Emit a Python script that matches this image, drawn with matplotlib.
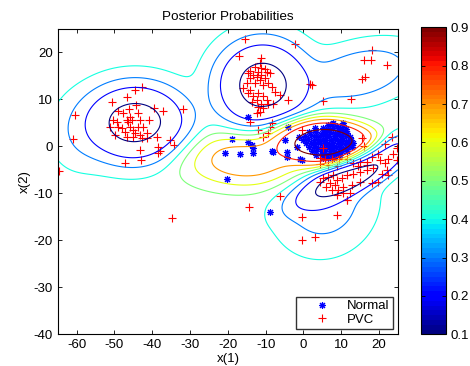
import matplotlib

matplotlib.use("Agg")

import matplotlib.pyplot as plt
import numpy as np
from matplotlib import cm
from matplotlib.colors import ListedColormap, Normalize

plt.rcParams["font.family"] = ["Liberation Sans", "DejaVu Sans"]
plt.rcParams["axes.unicode_minus"] = False

# Normal beats (blue *)
normal_x = [
    6.4, 7.6, 8.8, 10.4, 3.1, 5.2, 6.6, 7.7, 9.1, 10.1, 11.3, 1.6, 3.4, 4.9, 6.1, 7.1, 8.3, 9.3, 10.6, 11.4,
    0.4, 2.1, 3.3, 4.4, 5.7, 6.8, 8.1, 9.0, 10.3, 11.2, 12.4, -0.1, 1.2, 2.7, 3.9, 5.1, 6.1, 7.4, 8.4, 9.7,
    10.6, 11.9, 12.7, 0.7, 2.0, 3.1, 4.5, 5.5, 6.8, 7.8, 9.1, 10.0, 11.3, 12.2, 13.2, 1.4, 2.8, 3.8, 5.2, 6.2,
    7.5, 8.6, 9.6, 10.9, 11.8, 12.8, 2.3, 3.4, 4.8, 5.8, 7.1, 8.1, 9.4, 10.3, 11.5, 3.3, 4.9, 6.1, 7.2, 8.7,
    9.7, 5.1, 6.4, 8.0,
    -4.9, -4.0, -1.3, -0.9, -4.4, -8.0, -4.4, -1.8, -0.5, -8.4, -14.6, -19.0, -20.8, -16.8, -14.6, -13.7,
    -13.3, -13.3, -20.3, -8.8, 3.1, 7.9, 10.6,
]
normal_y = [
    4.5, 4.8, 4.4, 4.6, 3.8, 3.9, 3.7, 3.9, 3.8, 3.6, 3.7, 3.0, 3.1, 2.9, 3.1, 3.0, 2.9, 3.1, 3.0, 2.8,
    2.2, 2.3, 2.1, 2.2, 2.3, 2.1, 2.2, 2.3, 2.1, 2.2, 2.0, 1.4, 1.5, 1.3, 1.4, 1.5, 1.3, 1.4, 1.5, 1.3,
    1.4, 1.2, 1.4, 0.6, 0.7, 0.5, 0.6, 0.7, 0.5, 0.6, 0.7, 0.5, 0.6, 0.5, 0.6, -0.2, -0.1, -0.3, -0.2, -0.1,
    -0.3, -0.2, -0.1, -0.3, -0.2, -0.1, -1.0, -0.9, -1.1, -1.0, -0.9, -1.1, -1.0, -0.9, -1.0, -1.8, -1.7, -1.9, -1.8, -1.7,
    -1.8, -2.5, -2.4, -2.5,
    1.4, 4.2, 2.0, -2.6, -2.2, -1.2, -1.2, -0.1, -2.9, -0.9, 6.2, 1.5, -1.5, -1.6, 1.0, 0.3,
    -0.4, -1.5, -7.0, -13.9, 3.5, 4.9, 4.9,
]

# PVC beats (red +)
pvc_x = [
    -42.8, -44.7, -46.8, -50.7, -44.3, -46.2, -39.5, -37.2, -31.8, -49.2, -47.7, -45.9, -43.7, -50.3, -45.4, -46.8,
    -46.3, -43.2, -41.0, -49.4, -49.0, -51.2, -48.1, -45.9, -45.0, -43.7, -42.4, -47.2, -44.6, -43.2, -41.5, -49.9,
    -46.6, -45.0, -42.8, -41.5, -38.8, -35.3, -34.2, -38.4, -38.0, -43.2, -38.4, -47.2, -43.1, -60.4, -60.9, -64.8,
    -15.5, -2.2, -17.0, -11.2, -11.5, -12.8, -11.1, -10.2, -14.1, -11.9, -9.7, -14.6, -13.3, -11.1, -8.9, -12.4,
    -10.2, -14.1, -11.5, -15.0, -9.3, -12.8, -10.6, -15.9, -8.4, -14.1, -7.5, -14.6, -11.9, -6.2, -13.3, -10.6,
    -12.4, -9.7, -4.0, -13.7, -11.1, -9.3, -8.0, -11.9, -10.6, -11.5, -12.4, 1.7,
    18.1, 16.0, 17.9, 22.0, 15.4, 16.3, 2.2, 5.3, 12.5,
    -8.4, -8.8, -11.9, -9.3, -10.6, -14.1, -0.5,
    5.3, 15.4, 15.9, 4.4, 5.7, 7.5, 9.5, 11.4, 4.4, 6.6, 8.8, 13.2, 15.1, 16.7,
    14.5, 16.7, 18.1, 19.8, 20.3, 21.6, 22.5, 23.8, 24.7, 22.0, 22.5, 20.7, 18.5, 16.7, 15.0, 13.2,
    11.4, 10.1, 8.8, 7.9, 6.6, 5.3, 4.4, 7.0, 8.3, 6.1, 7.5, 9.2, 10.6, 12.8, 15.0, 18.1,
    19.8, 12.3, 10.6, 8.8, 11.4, 24.7, 23.4, 21.5,
    -34.9, -14.3, -6.2, -0.5, 8.8, -0.5, 3.0, 11.4,
]
pvc_y = [
    12.7, 12.0, 10.4, 9.5, 8.8, 7.9, 8.1, 7.5, 7.9, 7.6, 7.0, 6.3, 7.0, 5.6, 5.6, 5.6,
    5.2, 5.6, 5.6, 5.2, 4.2, 4.2, 3.8, 4.2, 3.5, 4.2, 4.2, 3.1, 2.8, 2.4, 2.8, 2.4,
    2.0, 2.0, 1.7, 1.7, 2.0, 1.3, 0.3, -0.1, -1.1, -0.8, -1.5, -3.6, -2.9, 6.7, 1.5, -5.2,
    22.8, 21.8, 19.2, 18.7, 17.7, 16.9, 16.6, 16.4, 16.1, 15.9, 15.9, 15.5, 15.2, 15.2, 15.5, 14.8,
    14.5, 14.5, 14.1, 13.4, 13.4, 13.4, 13.0, 12.3, 12.7, 12.0, 11.6, 11.3, 11.3, 10.9, 10.6, 10.6,
    9.9, 9.9, 9.9, 9.5, 9.1, 9.1, 9.1, 8.4, 8.1, 7.4, 7.0, 13.3,
    20.5, 18.4, 18.4, 17.4, 14.3, 14.7, 13.0, 9.6, 10.1,
    4.9, 4.2, 3.5, 2.8, 1.9, 5.2, 3.5,
    -0.3, 1.7, 0.1, -2.4, -2.6, -2.8, -2.8, -2.6, -3.8, -4.0, -4.1, -3.6, -3.3, -4.0,
    -4.2, -3.3, -2.2, -1.6, -2.9, -3.6, -2.6, -1.6, -2.9, -5.0, -6.1, -5.9, -4.7, -5.0, -5.4, -5.8,
    -6.1, -6.8, -7.2, -6.1, -6.5, -6.8, -7.5, -7.9, -8.2, -8.6, -9.3, -9.3, -8.6, -8.2, -7.7, -7.9,
    -7.5, -9.9, -9.9, -10.4, -11.4, -0.4, 2.0, 0.5,
    -15.3, -13.0, -10.6, -15.1, -14.6, -20.0, -19.2, -11.4,
]

# bumps: centre x, centre y, sd along, sd across, angle (deg), height
normal_parts = [
    (5.5, 0.6, 6.5, 2.4, -3.0, 25.0),
    (-14.0, -2.7, 10.0, 3.4, 0.0, 3.4),
]
pvc_parts = [
    (-44.5, 5.0, 7.3, 4.4, 0.0, 12.0),
    (-60.0, 2.0, 5.0, 5.0, 0.0, 0.6),
    (-10.8, 13.0, 6.5, 5.0, 0.0, 12.0),
    (13.5, -5.5, 7.6, 2.0, 22.0, 20.0),
    (5.5, -12.0, 7.5, 6.0, 10.0, 2.0),
    (15.0, 15.5, 9.0, 3.6, 10.0, 2.4),
]
pvc_spread = 0.23   # flat PVC level far from the clusters
floor = 1.0

levels = [0.1, 0.2, 0.3, 0.4, 0.5, 0.6, 0.7, 0.8, 0.9]
x_ticks = [-60, -50, -40, -30, -20, -10, 0, 10, 20]
y_ticks = [-40, -30, -20, -10, 0, 10, 20]
cbar_ticks = [0.1, 0.2, 0.3, 0.4, 0.5, 0.6, 0.7, 0.8, 0.9]


def bump(gx, gy, part):
    mx, my, sa, sb, angle, height = part
    t = np.radians(angle)
    dx = gx - mx
    dy = gy - my
    u = dx * np.cos(t) + dy * np.sin(t)
    v = -dx * np.sin(t) + dy * np.cos(t)
    return height * np.exp(-0.5 * ((u / sa) ** 2 + (v / sb) ** 2))


gx, gy = np.meshgrid(np.linspace(-65, 25, 361), np.linspace(-40, 25, 261))
dens_n = sum(bump(gx, gy, p) for p in normal_parts)
dens_p = sum(bump(gx, gy, p) for p in pvc_parts) + pvc_spread
post = (dens_n + floor) / (dens_n + dens_p + 2 * floor)

jet64 = ListedColormap(cm.jet(np.linspace(0, 1, 64)))
norm = Normalize(0.1, 0.9)

fig = plt.figure(figsize=(4.7, 3.66), dpi=100)
ax = fig.add_axes([0.123, 0.0866, 0.7236, 0.8347])
cax = fig.add_axes([0.895, 0.0866, 0.053, 0.8385])

h_n, = ax.plot(normal_x, normal_y, linestyle="none", marker=(8, 2, 0), color="#0000ff",
               markersize=5, markeredgewidth=0.8, label="Normal")
h_p, = ax.plot(pvc_x, pvc_y, linestyle="none", marker="+", color="#ff0000",
               markersize=5.5, markeredgewidth=0.8, label="PVC")
ax.contour(gx, gy, post, levels=levels, cmap=cm.jet, norm=norm, linewidths=0.8)

ax.set_xlim(-65, 25)
ax.set_ylim(-40, 25)
ax.set_xticks(x_ticks)
ax.set_yticks(y_ticks)
ax.tick_params(direction="in", top=True, right=True, labelsize=9.5, length=3, width=0.6)
for s in ax.spines.values():
    s.set_linewidth(0.8)
ax.set_xlabel("x(1)", fontsize=9.5, labelpad=1)
ax.set_ylabel("x(2)", fontsize=9.5, labelpad=2)
ax.set_title("Posterior Probabilities", fontsize=9.7, pad=6)

leg = ax.legend(handles=[h_n, h_p], loc="lower right", fontsize=9.5, frameon=True, fancybox=False,
                borderaxespad=0.4, handlelength=3.5, handletextpad=0.1, borderpad=0.25,
                labelspacing=0.1)
leg.get_frame().set_edgecolor("black")
leg.get_frame().set_linewidth(1.0)

sm = cm.ScalarMappable(norm=norm, cmap=jet64)
cb = fig.colorbar(sm, cax=cax, ticks=cbar_ticks)
cb.ax.tick_params(direction="in", left=True, right=True, labelsize=9.5, length=3, width=0.6)
cb.outline.set_linewidth(0.8)

fig.savefig("out.png", dpi=100)
